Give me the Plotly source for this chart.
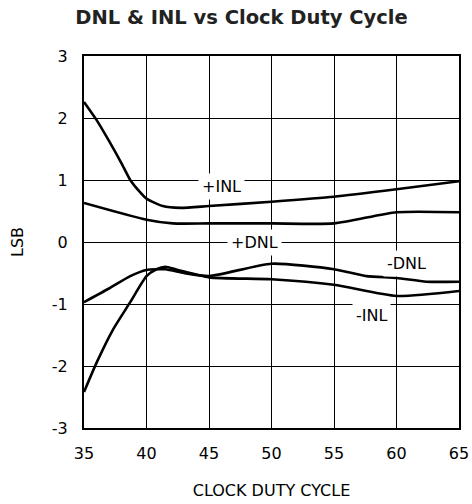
import plotly.graph_objects as go

duty_inl_pos = [35, 36, 37, 38, 38.7, 39.5, 40, 41.3, 42.7, 45, 50, 55, 60, 65]
inl_pos = [2.26, 1.97, 1.63, 1.27, 1.0, 0.80, 0.70, 0.58, 0.55, 0.58, 0.65, 0.73, 0.85, 0.98]

duty_dnl_pos = [35, 40, 42.1, 45, 50, 55, 60, 65]
dnl_pos = [0.63, 0.36, 0.30, 0.30, 0.30, 0.30, 0.48, 0.48]

duty_dnl_neg = [35, 37, 38.7, 40, 41.5, 43, 45, 50, 55, 57.6, 60, 62.4, 65]
dnl_neg = [-0.97, -0.75, -0.55, -0.45, -0.44, -0.50, -0.55, -0.35, -0.44, -0.55, -0.58, -0.64, -0.64]

duty_inl_neg = [35, 36, 37.3, 38.7, 40, 40.8, 41.5, 42.5, 45, 50, 55, 60, 65]
inl_neg = [-2.42, -1.95, -1.42, -0.97, -0.55, -0.44, -0.40, -0.45, -0.57, -0.60, -0.69, -0.87, -0.79]

x_ticks = [35, 40, 45, 50, 55, 60, 65]
x_tick_text = ["35", "40", "45", "50", "55", "60", "65"]
y_ticks = [-3, -2, -1, 0, 1, 2, 3]
y_tick_text = ["-3", "-2", "-1", "0", "1", "2", "3"]

labels = ["+INL", "+DNL", "-DNL", "-INL"]
label_x = [46.0, 48.6, 60.8, 58.0]
label_y = [0.89, 0.0, -0.34, -1.18]

FAM = "DejaVu Sans, Liberation Sans, Arial"

fig = go.Figure()
line = dict(color="black", width=2.6, shape="spline", smoothing=0.6)
for xs, ys, nm in [(duty_inl_pos, inl_pos, "+INL"), (duty_dnl_pos, dnl_pos, "+DNL"),
                   (duty_dnl_neg, dnl_neg, "-DNL"), (duty_inl_neg, inl_neg, "-INL")]:
    fig.add_trace(go.Scatter(x=xs, y=ys, mode="lines", line=line, name=nm, showlegend=False))

for t, lx, ly in zip(labels, label_x, label_y):
    fig.add_annotation(x=lx, y=ly, text=t, showarrow=False, bgcolor="white",
                       font=dict(family=FAM, size=16, color="black"),
                       borderpad=3)

font = dict(family=FAM, size=16, color="black")
fig.update_layout(
    width=472, height=504,
    margin=dict(l=84, r=13, t=56, b=76, autoexpand=False),
    paper_bgcolor="white", plot_bgcolor="white",
    title=dict(text="<b>DNL & INL vs Clock Duty Cycle</b>", x=241.5 / 472, xanchor="center",
               y=1 - 17 / 504, yanchor="middle",
               font=dict(family=FAM, size=19.5, color="#222")),
    xaxis=dict(range=[35, 65], tickvals=x_ticks, ticktext=x_tick_text, showgrid=True,
               gridcolor="black", gridwidth=1, automargin=False,
               showline=True, linecolor="black", linewidth=2, mirror=True, zeroline=False,
               ticks="", tickfont=font, ticklabelstandoff=10,
               title=dict(text="CLOCK DUTY CYCLE", font=font, standoff=23)),
    yaxis=dict(range=[-3, 3], tickvals=y_ticks, ticktext=y_tick_text, showgrid=True,
               gridcolor="black", gridwidth=1, automargin=False,
               showline=True, linecolor="black", linewidth=2, mirror=True, zeroline=False,
               ticks="", tickfont=font, ticklabelstandoff=11,
               title=dict(text="LSB", font=font, standoff=24)),
    font=font,
)

fig.write_html("out.html", config={"displayModeBar": False},
               post_script="document.body.style.margin='0';document.body.style.overflow='hidden';")
